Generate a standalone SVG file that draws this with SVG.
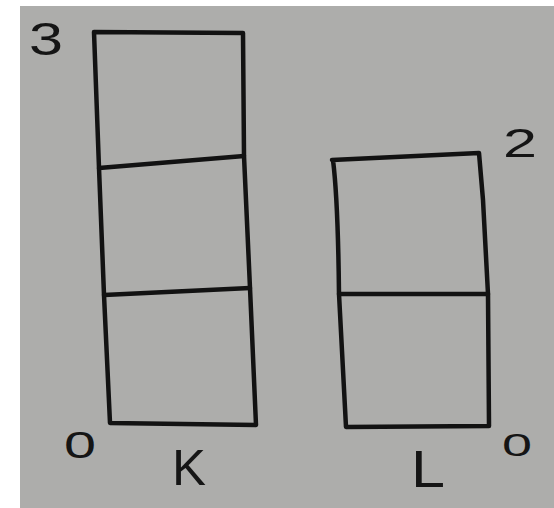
<svg xmlns="http://www.w3.org/2000/svg" width="554" height="508" viewBox="0 0 554 508">
  <style>
    .bar { fill: none; stroke: #121212; stroke-width: 4.5; stroke-linecap: round; stroke-linejoin: round; }
    .lbl { font-family: "Liberation Sans", "DejaVu Sans", sans-serif; fill: #151515; text-anchor: middle; }
  </style>
  <rect x="0" y="0" width="554" height="508" fill="#ffffff"/>
  <rect x="20" y="6" width="534" height="502" fill="#adadab"/>
  <g id="bar-K">
    <path class="bar" d="M94 32 L243 33 L244 156 L250 288 L256 425 L110 423 L104 295 L99 168 Z"/>
    <path class="bar" d="M99 168 L244 156"/>
    <path class="bar" d="M104 295 L250 288"/>
  </g>
  <g id="bar-L">
    <path class="bar" d="M332 160 L479 153 L483 200 L488 294 L489 426 L346 427 L339 294 Q338 200 333 160"/>
    <path class="bar" d="M339 294 L488 294"/>
  </g>
  <g id="labels">
    <text class="lbl" x="46" y="55" font-size="46" textLength="34" lengthAdjust="spacingAndGlyphs">3</text>
    <text class="lbl" x="520" y="157" font-size="40" textLength="34" lengthAdjust="spacingAndGlyphs">2</text>
    <text class="lbl" x="80" y="458" font-size="36" textLength="32" lengthAdjust="spacingAndGlyphs">0</text>
    <text class="lbl" x="517" y="456" font-size="31" textLength="30" lengthAdjust="spacingAndGlyphs">0</text>
    <text class="lbl" x="189" y="485" font-size="50" textLength="34" lengthAdjust="spacingAndGlyphs">K</text>
    <text class="lbl" x="428" y="487" font-size="51" textLength="34" lengthAdjust="spacingAndGlyphs">L</text>
  </g>
</svg>
